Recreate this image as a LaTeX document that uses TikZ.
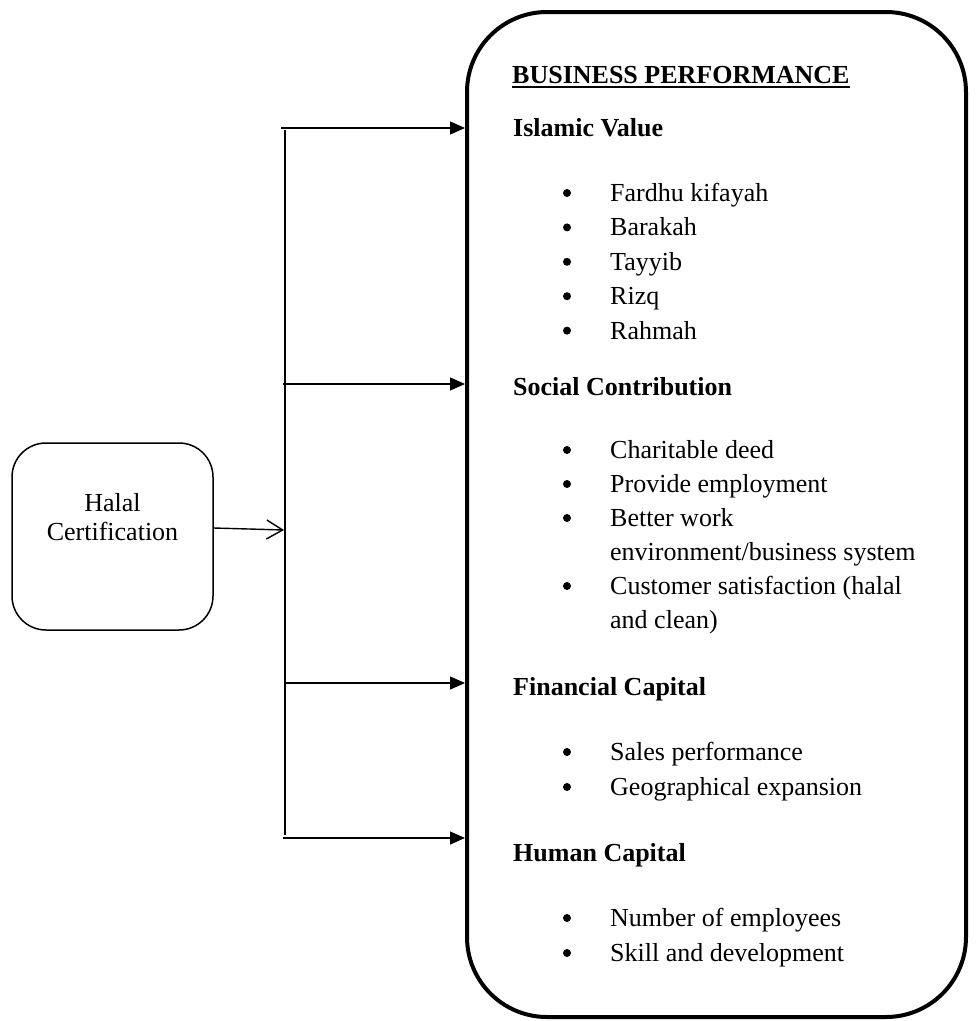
\documentclass[tikz,border=0pt]{standalone}
\usepackage{fontspec}
\setmainfont{Liberation Serif}
\usetikzlibrary{arrows.meta}
\begin{document}
\begin{tikzpicture}[x=1pt,y=-1pt,
  conn/.style={line width=1.4pt,-{Triangle[length=15pt,width=13pt]}},
  trunk/.style={line width=1.4pt},
  txt/.style={anchor=base west,inner sep=0pt,font=\fontsize{26}{30}\selectfont},
  head/.style={anchor=base west,inner sep=0pt,font=\fontsize{26}{30}\selectfont\bfseries},
  bul/.style={fill=black}]
\useasboundingbox (0,0) rectangle (978,1021);
% boxes
\node[draw,line width=4pt,rounded corners=80pt,minimum width=499pt,minimum height=1005pt,inner sep=0pt] (bp) at (716.5,514.5) {};
\node[draw,line width=1.5pt,rounded corners=34pt,minimum width=201pt,minimum height=187pt,inner sep=0pt] (hc) at (112.5,536.5) {};
\node[align=center,inner sep=0pt,font=\fontsize{26}{29}\selectfont] (hct) at (112.5,517.5) {Halal\\Certification};
% trunk and connectors
\coordinate (tt) at (285,130);
\coordinate (tb) at (285,835);
\draw[trunk] (tt) -- (tb);
\coordinate (hj) at (284,530);
\draw[line width=1.4pt,-{Straight Barb[length=16pt,width=19pt]}] ([yshift=8.5pt]hc.east) -- (hj);
\coordinate (a1) at (281,128);
\coordinate (a2) at (283,384);
\coordinate (a3) at (286,683);
\coordinate (a4) at (283,838);
\draw[conn] (a1) -- (a1 -| bp.west);
\draw[conn] (a2) -- (a2 -| bp.west);
\draw[conn] (a3) -- (a3 -| bp.west);
\draw[conn] (a4) -- (a4 -| bp.west);
% title
\node[head] (bpt) at (512,83) {BUSINESS PERFORMANCE};
\draw[line width=1.8pt] ([yshift=-4pt]bpt.base west) -- ([yshift=-4pt]bpt.base east);
% Islamic Value
\node[head] (h1) at (513,136) {Islamic Value};
\foreach \yy/\tt in {193/Fardhu kifayah,227.4/Barakah,261.8/Tayyib,296.2/Rizq,330.6/Rahmah}{
  \fill[bul] (567,\yy) circle (4pt);
  \node[txt] at (610,\yy+8.5) {\tt};
}
% Social Contribution
\node[head] (h2) at (513,395) {Social Contribution};
\foreach \yy/\tt in {450/Charitable deed,484/Provide employment,518/Better work,586/Customer satisfaction (halal}{
  \fill[bul] (567,\yy) circle (4pt);
  \node[txt] at (610,\yy+8.5) {\tt};
}
\node[txt] at (610,560.5) {environment/business system};
\node[txt] at (610,628.5) {and clean)};
% Financial Capital
\node[head] (h3) at (513,695.5) {Financial Capital};
\foreach \yy/\tt in {752/Sales performance,787/Geographical expansion}{
  \fill[bul] (567,\yy) circle (4pt);
  \node[txt] at (610,\yy+8.5) {\tt};
}
% Human Capital
\node[head] (h4) at (513,861.5) {Human Capital};
\foreach \yy/\tt in {918/Number of employees,953/Skill and development}{
  \fill[bul] (567,\yy) circle (4pt);
  \node[txt] at (610,\yy+8.5) {\tt};
}
\end{tikzpicture}
\end{document}
